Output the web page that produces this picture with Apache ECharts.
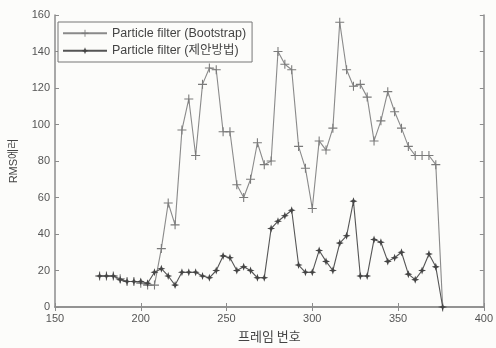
<!DOCTYPE html>
<html>
<head>
<meta charset="utf-8">
<script src="https://cdn.jsdelivr.net/npm/echarts@6/dist/echarts.min.js"></script>
<style>
  html, body { margin: 0; padding: 0; background: #fcfcfa; }
  #chart { width: 496px; height: 348px; }
</style>
</head>
<body>
<div id="chart"></div>
<script>
// 프레임 번호 (x)
const frames = [176, 180, 184, 188, 192, 196, 200, 204, 208, 212, 216, 220, 224, 228, 232, 236, 240, 244,
  248, 252, 256, 260, 264, 268, 272, 276, 280, 284, 288, 292, 296, 300, 304, 308, 312, 316, 320, 324,
  328, 332, 336, 340, 344, 348, 352, 356, 360, 364, 368, 372, 376];
// Particle filter (Bootstrap)
const bootstrap = [17, 17, 17, 15.5, 14, 14, 13, 12, 12, 32, 57, 45, 97, 114, 83, 122, 131, 130,
  96, 96, 67, 60, 70, 90, 78, 80, 140, 133, 130, 88, 76, 54, 91, 86, 98, 156, 130, 121,
  122, 115, 91, 102, 118, 107, 98, 88, 83, 83, 83, 78, 0];
// Particle filter (제안방법)
const proposed = [17, 17, 17, 15, 14, 14, 14, 13, 19, 21, 17, 12, 19, 19, 19, 17, 16, 20,
  28, 27, 20, 22, 20, 16, 16, 43, 47, 50, 53, 23, 19, 19, 31, 25, 20, 35, 39, 58,
  17, 17, 37, 35.5, 25, 27, 30, 18, 15, 20, 29, 22, 0];
const xTicks = [150, 200, 250, 300, 350, 400];
const yTicks = [0, 20, 40, 60, 80, 100, 120, 140, 160];

const plusIcon = "path://M4.4,0H5.6V4.4H10V5.6H5.6V10H4.4V5.6H0V4.4H4.4Z";
const starIcon = "path://M5,0L6.3,3.7L10,5L6.3,6.3L5,10L3.7,6.3L0,5L3.7,3.7Z";

const axisColor = "#8c8c8c";
const labelStyle = { color: "#555", fontSize: 11, fontFamily: "Liberation Sans, Arial" };

let chart = echarts.init(document.getElementById("chart"));
chart.setOption({
  animation: false,
  backgroundColor: "#fcfcfa",
  grid: { left: 55, right: 11, top: 15, bottom: 33 },
  legend: {
    left: 58,
    top: 22,
    orient: "vertical",
    itemWidth: 44,
    itemHeight: 9,
    itemGap: 5,
    padding: [5, 6, 5, 4],
    borderColor: "#777",
    borderWidth: 1,
    backgroundColor: "#fcfcfa",
    textStyle: { color: "#444", fontSize: 12.5, fontFamily: "Liberation Sans, Noto Sans CJK KR" },
    data: ["Particle filter (Bootstrap)", "Particle filter (제안방법)"],
  },
  xAxis: [
    {
      type: "value",
      min: 150,
      max: 400,
      interval: 50,
      name: "프레임 번호",
      nameLocation: "middle",
      nameGap: 23,
      nameTextStyle: { color: "#444", fontSize: 13, fontFamily: "Noto Sans CJK KR" },
      axisLine: { show: true, lineStyle: { color: axisColor, width: 1.5 } },
      axisTick: { inside: true, length: 4, lineStyle: { color: axisColor } },
      axisLabel: Object.assign({ margin: 6, customValues: xTicks }, labelStyle),
      splitLine: { show: false },
    },
    {
      type: "value",
      position: "top",
      min: 150,
      max: 400,
      interval: 50,
      axisLine: { show: true, lineStyle: { color: axisColor, width: 1.5 } },
      axisTick: { inside: true, length: 4, lineStyle: { color: axisColor } },
      axisLabel: { show: false },
      splitLine: { show: false },
    },
  ],
  yAxis: [
    {
      type: "value",
      min: 0,
      max: 160,
      interval: 20,
      name: "RMS에러",
      nameLocation: "middle",
      nameGap: 36,
      nameTextStyle: { color: "#444", fontSize: 11, fontFamily: "Liberation Sans, Noto Sans CJK KR" },
      axisLine: { show: true, lineStyle: { color: axisColor, width: 1.5 } },
      axisTick: { inside: true, length: 4, lineStyle: { color: axisColor } },
      axisLabel: Object.assign({ margin: 5, customValues: yTicks }, labelStyle),
      splitLine: { show: false },
    },
    {
      type: "value",
      position: "right",
      min: 0,
      max: 160,
      interval: 20,
      axisLine: { show: true, lineStyle: { color: axisColor, width: 1.5 } },
      axisTick: { inside: true, length: 4, lineStyle: { color: axisColor } },
      axisLabel: { show: false },
      splitLine: { show: false },
    },
  ],
  series: [
    {
      name: "Particle filter (Bootstrap)",
      type: "line",
      clip: false,
      data: frames.map((f, i) => [f, bootstrap[i]]),
      symbol: plusIcon,
      symbolSize: 9,
      lineStyle: { color: "#8a8a8a", width: 1.1 },
      itemStyle: { color: "#7a7a7a" },
    },
    {
      name: "Particle filter (제안방법)",
      type: "line",
      clip: false,
      data: frames.map((f, i) => [f, proposed[i]]),
      symbol: starIcon,
      symbolSize: 8,
      lineStyle: { color: "#555", width: 1.1 },
      itemStyle: { color: "#444" },
    },
  ],
});
</script>
</body>
</html>
